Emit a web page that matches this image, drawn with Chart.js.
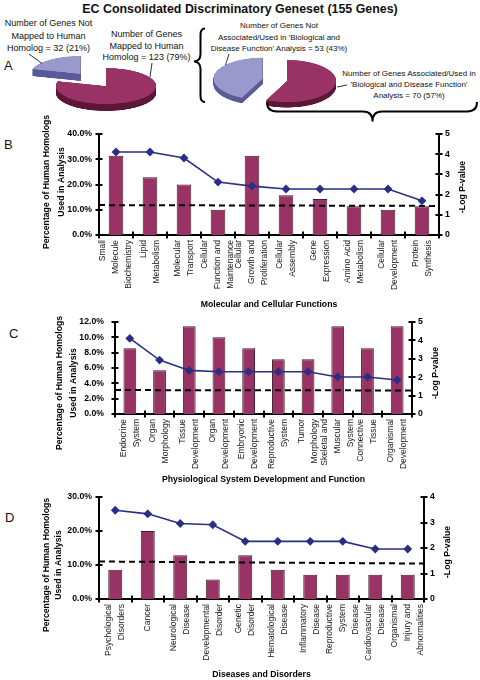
<!DOCTYPE html>
<html><head><meta charset="utf-8">
<script src="https://cdn.jsdelivr.net/npm/chart.js@4"></script>
<style>
html,body{margin:0;padding:0;background:#fff;}
#wrap{position:relative;width:480px;height:680px;overflow:hidden;font-family:"Liberation Sans",Arial,sans-serif;color:#111;}
canvas{position:absolute;}
.t{position:absolute;text-align:center;white-space:nowrap;}
.p{position:absolute;font-size:13px;line-height:15px;}
svg{position:absolute;left:0;top:0;}
</style></head><body>
<div id="wrap">
  <div class="t" style="left:0;width:480px;top:2px;font-weight:bold;font-size:12.4px;line-height:14px;">EC Consolidated Discriminatory Geneset (155 Genes)</div>
  <div class="p" style="left:4px;top:57.5px;">A</div>
  <div class="p" style="left:4px;top:137px;">B</div>
  <div class="p" style="left:9px;top:325.5px;">C</div>
  <div class="p" style="left:5px;top:509.5px;">D</div>
  <div class="t" style="left:-11.5px;width:120px;top:17px;font-size:9px;line-height:12.5px;">Number of Genes Not<br>Mapped to Human<br>Homolog = 32 (21%)</div>
  <div class="t" style="left:86.5px;width:120px;top:29.2px;font-size:9px;line-height:11.5px;">Number of Genes<br>Mapped to Human<br>Homolog = 123 (79%)</div>
  <div class="t" style="left:199px;width:160px;top:19.8px;font-size:8px;line-height:11.8px;">Number of Genes Not<br>Associated/Used in 'Biological and<br>Disease Function' Analysis = 53 (43%)</div>
  <div class="t" style="left:334px;width:150px;top:68.8px;font-size:8px;line-height:10.9px;">Number of Genes Associated/Used in<br>'Biological and Disease Function'<br>Analysis = 70 (57%)</div>
  <canvas id="pieL" width="200" height="200" style="left:6px;top:49.5px;transform:scaleY(0.36);transform-origin:0 0;"></canvas>
  <canvas id="pieR" width="200" height="200" style="left:187px;top:37.5px;transform:scaleY(0.43);transform-origin:0 0;"></canvas>
  <canvas id="chartB" width="480" height="210" style="left:0;top:105px;"></canvas>
  <canvas id="chartC" width="480" height="198" style="left:0;top:292px;"></canvas>
  <canvas id="chartD" width="480" height="213" style="left:0;top:467px;"></canvas>
  <svg width="480" height="680" viewBox="0 0 480 680">
    <g stroke="#000" fill="none">
      <line x1="29" y1="54" x2="42" y2="63.5" stroke-width="0.8"/>
      <line x1="152" y1="63" x2="150" y2="77" stroke-width="0.8"/>
      <line x1="229" y1="54" x2="225.5" y2="65" stroke-width="0.8"/>
      <line x1="337" y1="87" x2="347" y2="85" stroke-width="0.8"/>
      <path d="M205,28.5 Q200.5,28.5 200.5,35 L200.5,54 Q200.5,61 194,61.5 Q200.5,62 200.5,69 L200.5,96 Q200.5,102 205,102" stroke-width="2"/>
      <path d="M267,102 Q267,111.5 277,111.5 L363,111.5 Q372.5,111.5 372.5,121.5 Q372.5,111.5 382,111.5 L467,111.5 Q477,111.5 477,102" stroke-width="2"/>
    </g>
  </svg>
</div>
<script>
// ---------- DATA ----------
const pieLeftLabels = ['Mapped to Human Homolog', 'Not Mapped to Human Homolog'];
const pieLeftValues = [123, 32];
const pieRightLabels = ['Associated/Used in Analysis', 'Not Associated/Used in Analysis'];
const pieRightValues = [70, 53];

const mcfLabels = [['Small','Molecule','Biochemistry'],['Lipid','Metabolism'],['Molecular','Transport'],['Cellular','Function and','Maintenance'],['Cellular','Growth and','Proliferation'],['Cellular','Assembly'],['Gene','Expression'],['Amino Acid','Metabolism'],['Cellular','Development'],['Protein','Synthesis']];
const mcfPercent = [31.4, 22.9, 20.0, 10.0, 31.4, 15.7, 14.3, 11.4, 10.0, 11.4];
const mcfLogP = [4.11, 4.11, 3.81, 2.62, 2.42, 2.28, 2.28, 2.28, 2.28, 1.69];
const mcfThreshold = [1.48, 1.44];

const psdLabels = [['Endocrine','System'],['Organ','Morphology'],['Tissue','Development'],['Organ','Development'],['Embryonic','Development'],['Reproductive','System'],['Tumor','Morphology'],['Skeletal and','Muscular','System'],['Connective','Tissue'],['Organismal','Development']];
const psdPercent = [8.57, 5.71, 11.43, 10.0, 8.57, 7.14, 7.14, 11.43, 8.57, 11.43];
const psdLogP = [4.11, 2.93, 2.37, 2.30, 2.30, 2.30, 2.30, 2.01, 2.01, 1.85];
const psdThreshold = [1.30, 1.28];

const ddLabels = [['Psychological','Disorders'],['Cancer'],['Neurological','Disease'],['Developmental','Disorder'],['Genetic','Disorder'],['Hematological','Disease'],['Inflammatory','Disease'],['Reproductive','System','Disease'],['Cardiovascular','Disease'],['Organismal','Injury and','Abnormalities']];
const ddPercent = [8.57, 20.0, 12.86, 5.71, 12.86, 8.57, 7.14, 7.14, 7.14, 7.14];
const ddLogP = [3.48, 3.34, 2.96, 2.91, 2.26, 2.26, 2.26, 2.26, 1.96, 1.96];
const ddThreshold = [1.47, 1.39];

const leftTitleLines = ['Percentage of Human Homologs', 'Used in Analysis'];
const rightTitleText = '-Log P-value';

// ---------- STYLE ----------
const MAGENTA = '#993366', LAVENDER = '#9999CC', NAVY = '#2B2E85';
const FONT = '"Liberation Sans", Arial, sans-serif';

// ---------- PLUGINS ----------
const pie3d = {
  id: 'pie3d',
  beforeDatasetsDraw(chart, args, o) {
    const ctx = chart.ctx;
    const meta = chart.getDatasetMeta(0);
    const items = meta.data.map((arc, i) => {
      const p = arc.getProps(['x','y','startAngle','endAngle','outerRadius'], true);
      const mid = (p.startAngle + p.endAngle) / 2;
      return {arc, i, p, dx: Math.cos(mid) * o.explode[i], dy: Math.sin(mid) * o.explode[i]};
    }).sort((a, b) => a.dy - b.dy);
    items.forEach(({arc, i, p, dx, dy}) => {
      ctx.save();
      ctx.translate(dx, dy);
      ctx.fillStyle = o.side[i];
      for (let d = o.depth; d > 0; d -= 0.5) {
        ctx.beginPath();
        ctx.moveTo(p.x, p.y + d);
        ctx.arc(p.x, p.y + d, p.outerRadius, p.startAngle, p.endAngle);
        ctx.closePath();
        ctx.fill();
      }
      arc.draw(ctx);
      ctx.restore();
    });
    return false;
  }
};

const xLabels = {
  id: 'xlabels',
  afterDraw(chart, args, o) {
    const ctx = chart.ctx, xs = chart.scales.x, base = chart.chartArea.bottom + o.gap;
    ctx.save();
    ctx.font = o.font; ctx.fillStyle = '#1a1a1a';
    ctx.textAlign = 'right'; ctx.textBaseline = 'middle';
    chart.data.labels.forEach((lab, i) => {
      const lines = Array.isArray(lab) ? lab : [lab];
      const cx = xs.getPixelForValue(i);
      lines.forEach((t, j) => {
        const x = cx + (j - (lines.length - 1) / 2) * o.spacing;
        ctx.save(); ctx.translate(x, base); ctx.rotate(-Math.PI / 2); ctx.fillText(t, 0, 0); ctx.restore();
      });
    });
    ctx.restore();
  }
};

const crossTicks = {
  id: 'crossTicks',
  afterDraw(chart) {
    const ctx = chart.ctx, a = chart.chartArea, L = 3.5;
    ctx.save(); ctx.strokeStyle = '#000'; ctx.lineWidth = 2;
    [['y', a.left], ['y1', a.right]].forEach(([id, x]) => {
      const s = chart.scales[id];
      s.ticks.forEach((t, i) => {
        const y = Math.round(s.getPixelForTick(i));
        ctx.beginPath(); ctx.moveTo(x - L, y); ctx.lineTo(x + L, y); ctx.stroke();
      });
    });
    const xs = chart.scales.x, n = chart.data.labels.length;
    for (let i = 0; i <= n; i++) {
      const x = Math.round(i === 0 ? a.left : i === n ? a.right : (xs.getPixelForValue(i - 1) + xs.getPixelForValue(i)) / 2);
      ctx.beginPath(); ctx.moveTo(x, a.bottom - L); ctx.lineTo(x, a.bottom + L); ctx.stroke();
    }
    ctx.restore();
  }
};

const threshold = {
  id: 'threshold',
  afterDatasetsDraw(chart, args, o) {
    const s = chart.scales.y1, a = chart.chartArea, ctx = chart.ctx;
    ctx.save(); ctx.setLineDash([6, 4]); ctx.lineWidth = 2; ctx.strokeStyle = '#000';
    ctx.beginPath();
    ctx.moveTo(a.left, s.getPixelForValue(o.values[0]));
    ctx.lineTo(a.right, s.getPixelForValue(o.values[1]));
    ctx.stroke(); ctx.restore();
  }
};

const axisTitles = {
  id: 'axisTitles',
  afterDraw(chart, args, o) {
    const s = chart.scales.y1, ctx = chart.ctx;
    ctx.save(); ctx.font = 'bold 8.7px ' + FONT; ctx.fillStyle = '#000';
    ctx.textAlign = 'center'; ctx.textBaseline = 'middle';
    ctx.save(); ctx.translate(s.left + o.rightDx, o.rightY); ctx.rotate(-Math.PI / 2);
    ctx.fillText(o.right, 0, 0); ctx.restore();
    o.left.forEach((t, j) => {
      ctx.save(); ctx.translate(o.leftX + j * o.leftLH, o.leftY); ctx.rotate(-Math.PI / 2);
      ctx.fillText(t, 0, 0); ctx.restore();
    });
    ctx.restore();
  }
};

// ---------- PIES ----------
function makePie(id, labels, values, explode, depth) {
  new Chart(document.getElementById(id), {
    type: 'pie',
    data: {labels, datasets: [{data: values, backgroundColor: [MAGENTA, LAVENDER], borderWidth: 0}]},
    options: {
      responsive: false, animation: false, events: [],
      layout: {padding: id === 'pieL' ? 50 : 51},
      plugins: {legend: {display: false}, tooltip: {enabled: false},
        pie3d: {explode, depth, side: ['#5E1838', '#5B5B99']}}
    },
    plugins: [pie3d]
  });
}
makePie('pieL', pieLeftLabels, pieLeftValues, [0, 42], 19.4);
makePie('pieR', pieRightLabels, pieRightValues, [0, 25], 12.8);

// ---------- BAR + LINE ----------
function makeCombo(id, c) {
  const tickFont = {family: FONT, size: 8.7, weight: 'bold'};
  new Chart(document.getElementById(id), {
    data: {
      labels: c.labels,
      datasets: [
        {type: 'line', data: c.logp, yAxisID: 'y1', order: 0, borderColor: NAVY, borderWidth: 1.6,
         pointStyle: 'rectRot', pointRadius: 3.3, pointBackgroundColor: NAVY, pointBorderColor: NAVY, tension: 0},
        {type: 'bar', data: c.percent, yAxisID: 'y', order: 1, backgroundColor: MAGENTA,
         borderColor: '#3d1f2e', borderWidth: 1, barPercentage: 0.43, categoryPercentage: 1}
      ]
    },
    options: {
      responsive: false, animation: false, events: [],
      layout: {padding: {top: c.padTop, left: 0, right: 0, bottom: 0}},
      plugins: {legend: {display: false}, tooltip: {enabled: false},
        xlabels: {gap: 5, spacing: 13, font: '8.5px ' + FONT},
        threshold: {values: c.threshold},
        axisTitles: {right: rightTitleText, rightDx: 24, rightY: c.rightY - c.top,
                     left: leftTitleLines, leftX: c.yTitleX, leftLH: c.yTitleLH, leftY: c.leftY - c.top}},
      scales: {
        x: {type: 'category', offset: true, grid: {display: false},
            border: {display: true, color: '#000', width: 2},
            ticks: {display: false},
            title: {display: true, text: c.xTitle, color: '#000',
                    font: {family: FONT, size: 8.7, weight: 'bold', lineHeight: 1.2}, padding: {top: 0, bottom: c.xTitlePad}},
            afterFit: s => { s.height = c.xHeight; }},
        y: {position: 'left', min: 0, max: c.yMax, grid: {display: false, drawTicks: false},
            border: {display: true, color: '#000', width: 2},
            ticks: {stepSize: c.yStep, padding: c.yPad, color: '#000', font: tickFont,
                    callback: v => v.toFixed(1) + '%'},
            afterFit: s => { s.width = c.yWidth; }},
        y1: {position: 'right', min: 0, max: c.y1Max, grid: {display: false, drawTicks: false},
            border: {display: true, color: '#000', width: 2},
            ticks: {stepSize: 1, padding: 6, color: '#000', font: tickFont},
            afterFit: s => { s.width = c.y1Width; }}
      }
    },
    plugins: [threshold, crossTicks, xLabels, axisTitles]
  });
}

makeCombo('chartB', {labels: mcfLabels, percent: mcfPercent, logp: mcfLogP, threshold: mcfThreshold,
  xTitle: 'Molecular and Cellular Functions', top: 105, padTop: 29, xHeight: 80, xTitlePad: 4.8,
  yMax: 40, yStep: 10, yPad: 7, yWidth: 99, y1Max: 5, y1Width: 41,
  yTitleX: 47, yTitleLH: 14.8, leftY: 182, rightY: 187});

makeCombo('chartC', {labels: psdLabels, percent: psdPercent, logp: psdLogP, threshold: psdThreshold,
  xTitle: 'Physiological System Development and Function', top: 292, padTop: 30, xHeight: 76, xTitlePad: 4.8,
  yMax: 12, yStep: 2, yPad: 11, yWidth: 115, y1Max: 5, y1Width: 68,
  yTitleX: 60, yTitleLH: 14, leftY: 383, rightY: 373});

makeCombo('chartD', {labels: ddLabels, percent: ddPercent, logp: ddLogP, threshold: ddThreshold,
  xTitle: 'Diseases and Disorders', top: 467, padTop: 30, xHeight: 81, xTitlePad: 0,
  yMax: 30, yStep: 10, yPad: 7, yWidth: 99, y1Max: 4, y1Width: 56,
  yTitleX: 47, yTitleLH: 11.5, leftY: 565, rightY: 552});
</script>
</body></html>
